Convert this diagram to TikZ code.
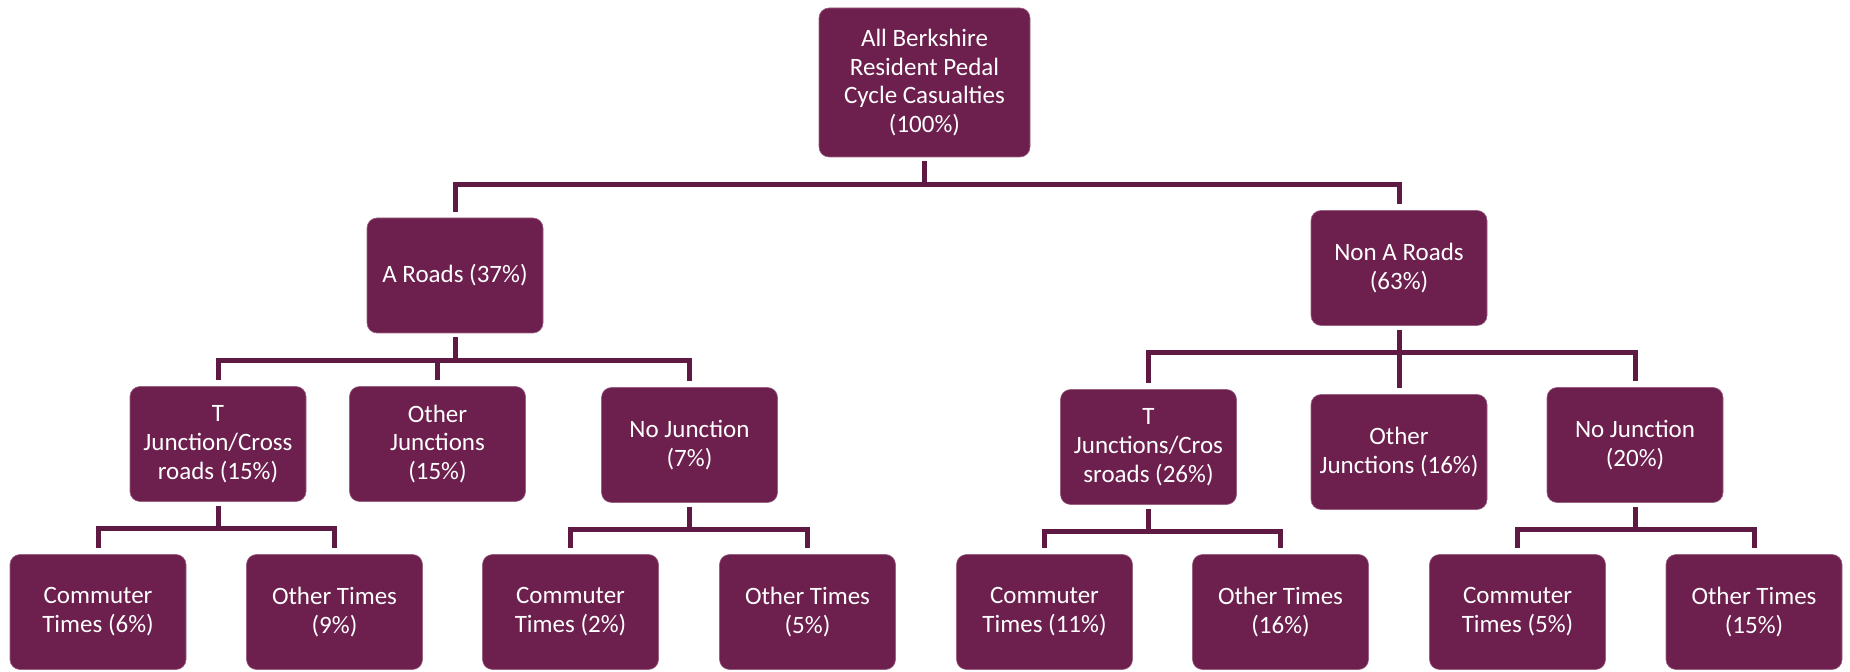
\documentclass[tikz,border=0pt]{standalone}
\usepackage{fontspec}
\setmainfont{Carlito}
\usepackage{tikz}
\usetikzlibrary{calc}
\definecolor{plum}{HTML}{6D1F4E}
\definecolor{plumdark}{HTML}{5E1A42}
\tikzset{
  every node/.style={font=\fontsize{12.5}{14.4}\selectfont,text=white},
  box/.style={fill=plum,draw=plum!70!white,line width=0.3pt,rounded corners=5pt,align=center,
    minimum width=88pt,minimum height=57.5pt,inner sep=2pt},
  rootbox/.style={box,minimum width=105.5pt,minimum height=74.5pt},
  link/.style={draw=plumdark,line width=2.5pt}
}
\begin{document}
\begin{tikzpicture}[x=0.5pt,y=-0.5pt]
  \useasboundingbox (0,0) rectangle (1850,672);

  % top
  \node[rootbox] (root) at (924.5,82.5) {All Berkshire\\Resident Pedal\\Cycle Casualties\\(100\%)};

  % road type
  \node[box] (aroad) at (455,275.5) {A Roads (37\%)};
  \node[box] (naroad) at (1399,268) {Non A Roads\\(63\%)};

  % junction type
  \node[box] (tjA) at (218,444) {T\\Junction/Cross\\roads (15\%)};
  \node[box] (ojA) at (437.5,444) {Other\\Junctions\\(15\%)};
  \node[box] (njA) at (689.5,445) {No Junction\\(7\%)};
  \node[box] (tjN) at (1148.5,447) {T\\Junctions/Cros\\sroads (26\%)};
  \node[box] (ojN) at (1399,452) {Other\\Junctions (16\%)};
  \node[box] (njN) at (1635,445) {No Junction\\(20\%)};

  % time of day
  \node[box] (ctA) at (98,612) {Commuter\\Times (6\%)};
  \node[box] (otA) at (334.5,612) {Other Times\\(9\%)};
  \node[box] (ctB) at (570.5,612) {Commuter\\Times (2\%)};
  \node[box] (otB) at (807.5,612) {Other Times\\(5\%)};
  \node[box] (ctC) at (1044.5,612) {Commuter\\Times (11\%)};
  \node[box] (otC) at (1280.5,612) {Other Times\\(16\%)};
  \node[box] (ctD) at (1517.5,612) {Commuter\\Times (5\%)};
  \node[box] (otD) at (1754,612) {Other Times\\(15\%)};

  % elbow connectors
  \foreach \p/\c in {root/aroad,root/naroad,
      aroad/tjA,aroad/ojA,aroad/njA,naroad/tjN,naroad/ojN,naroad/njN,
      tjA/ctA,tjA/otA,njA/ctB,njA/otB,tjN/ctC,tjN/otC,njN/ctD,njN/otD}
    \draw[link] ([yshift=-2pt]\p.south) -- ([yshift=-13.5pt]\p.south) -| ([yshift=3pt]\c.north);
\end{tikzpicture}
\end{document}
